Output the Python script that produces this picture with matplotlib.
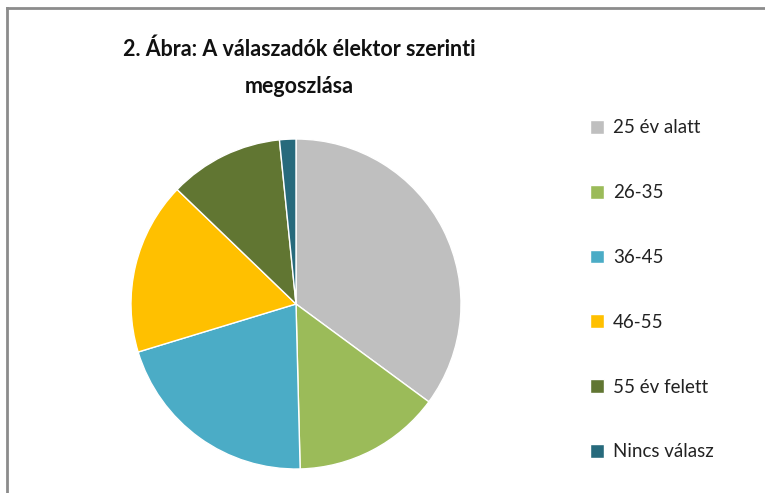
import matplotlib
matplotlib.use('Agg')
import matplotlib.pyplot as plt
from matplotlib.lines import Line2D

plt.rcParams['font.family'] = ['Lato', 'DejaVu Sans']

# adatok (szazalek, a kepről leolvasva)
kategoriak = ['25 év alatt', '26-35', '36-45', '46-55', '55 év felett', 'Nincs válasz']
ertekek = [35.1, 14.5, 20.7, 16.9, 11.2, 1.6]
szinek = ['#BFBFBF', '#9BBB59', '#4BACC6', '#FFC000', '#617632', '#276A7C']
cim = '2. Ábra: A válaszadók élektor szerinti\nmegoszlása'

W, H = 765, 493
fig = plt.figure(figsize=(W / 100, H / 100), dpi=100)

# pie helye pixelben: kozeppont (296, 304), sugar 165
cx, cy, r = 296, 304, 165
ax = fig.add_axes([(cx - r) / W, (H - cy - r) / H, 2 * r / W, 2 * r / H])
wedges, _ = ax.pie(ertekek, colors=szinek, startangle=90, counterclock=False,
                   wedgeprops=dict(edgecolor='white', linewidth=1))
ax.set_xlim(-1, 1)
ax.set_ylim(-1, 1)
ax.set_aspect('equal')

fig.text(299 / W, 1 - 68 / H, cim, ha='center', va='center', fontsize=15.5,
         fontweight='bold', color='#111111', linespacing=1.95)

leg = fig.legend(wedges, kategoriak, loc='upper left',
                 bbox_to_anchor=(581 / W, 1 - 110 / H), frameon=False,
                 fontsize=13.5, handlelength=0.75, handleheight=0.75,
                 handletextpad=0.45, labelspacing=2.55, borderpad=0)
for t in leg.get_texts():
    t.set_color('#222222')

# keret (felső es bal vonal)
fig.add_artist(Line2D([7 / W, 1], [1 - 8 / H, 1 - 8 / H], color='#8C8C8C', lw=2,
                      transform=fig.transFigure))
fig.add_artist(Line2D([7 / W, 7 / W], [0, 1 - 8 / H], color='#8C8C8C', lw=2,
                      transform=fig.transFigure))

fig.savefig('out.png', dpi=100, facecolor='white')
